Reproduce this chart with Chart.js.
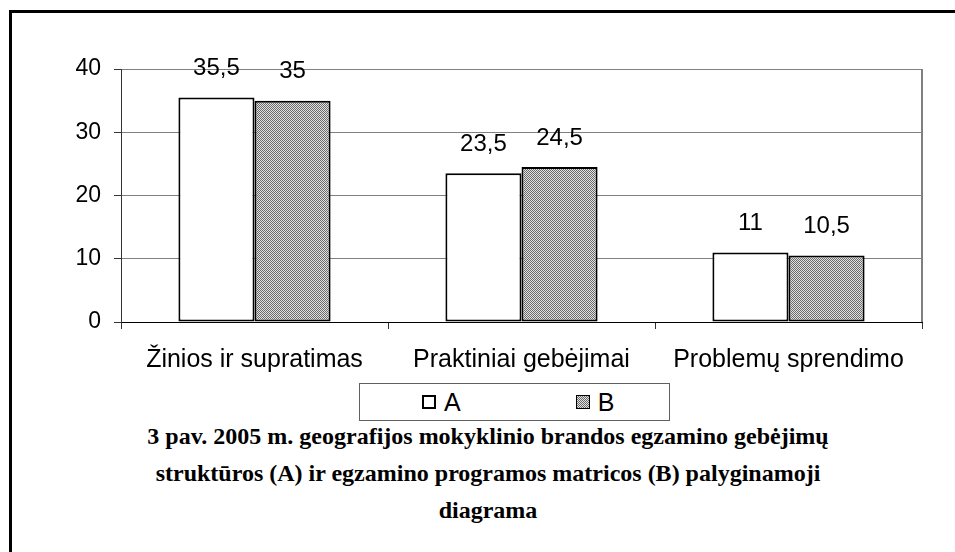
<!DOCTYPE html>
<html lang="lt">
<head>
<meta charset="UTF-8">
<title>3 pav.</title>
<script src="https://cdn.jsdelivr.net/npm/chart.js@4/dist/chart.umd.min.js"></script>
<style>
    body { margin: 0; background: #fff; width: 955px; height: 552px; overflow: hidden; position: relative; }
    #remas { position: absolute; left: 9px; top: 10px; width: 2000px; height: 2000px; border-left: 3px solid #000; border-top: 3px solid #000; }
    #grafikas { position: absolute; left: 0; top: 0; }
    #legenda { position: absolute; left: 359px; top: 383px; width: 311px; height: 38px; border: 1px solid #606060; box-sizing: border-box;
        font-family: "Liberation Sans", Arial, sans-serif; font-size: 25px; color: #000; display: flex; align-items: center; padding-left: 62px; }
    .elem { display: flex; align-items: center; }
    .kv { width: 14px; height: 14px; border: 2px solid #000; box-sizing: border-box; margin-right: 8px; }
    .kv.B { border-width: 1px; background: repeating-conic-gradient(#6a6a6a 0 25%, #e2e2e2 0 50%) 0 0/2px 2px; }
    #antraste { position: absolute; left: 0; width: 976px; top: 418px; text-align: center;
        font-family: "Liberation Serif", "Times New Roman", serif; font-weight: bold; font-size: 24px; line-height: 37px; color: #000; }
</style>
</head>
<body>
<div id="remas"></div>
<canvas id="grafikas" width="955" height="380"></canvas>
<div id="legenda"></div>
<div id="antraste">3 pav. 2005 m. geografijos mokyklinio brandos egzamino gebėjimų<br>struktūros (A) ir egzamino programos matricos (B) palyginamoji<br>diagrama</div>

<script>
    // duomenys
    const kategorijos = ['Žinios ir supratimas', 'Praktiniai gebėjimai', 'Problemų sprendimo'];
    const serijuPavadinimai = ['A', 'B'];
    const reiksmesA = [35.5, 23.5, 11];
    const reiksmesB = [35, 24.5, 10.5];
    const asiesZymos = [0, 10, 20, 30, 40];

    function rastas() {
        const c = document.createElement('canvas');
        c.width = 2; c.height = 2;
        const x = c.getContext('2d');
        x.fillStyle = '#e2e2e2';
        x.fillRect(0, 0, 2, 2);
        x.fillStyle = '#6a6a6a';
        x.fillRect(0, 0, 1, 1);
        x.fillRect(1, 1, 1, 1);
        return x.createPattern(c, 'repeat');
    }

    function skaicius(v) {
        return String(v).replace('.', ',');
    }

    // remelis aplink braizymo sriti ir reiksmiu uzrasai
    const priedai = {
        id: 'priedai',
        afterDatasetsDraw(chart) {
            const ctx = chart.ctx;
            const a = chart.chartArea;
            ctx.save();
            ctx.strokeStyle = '#808080';
            ctx.lineWidth = 2;
            ctx.beginPath();
            ctx.moveTo(a.right, a.top);
            ctx.lineTo(a.right, a.bottom);
            ctx.stroke();

            ctx.fillStyle = '#000';
            ctx.font = '24px "Liberation Sans", Arial, sans-serif';
            ctx.textAlign = 'center';
            ctx.textBaseline = 'middle';
            chart.data.datasets.forEach(function (ds, i) {
                chart.getDatasetMeta(i).data.forEach(function (bar, j) {
                    ctx.fillText(skaicius(ds.data[j]), bar.x, bar.y - 29);
                });
            });
            ctx.restore();
        }
    };

    const grafikas = new Chart(document.getElementById('grafikas'), {
        type: 'bar',
        data: {
            labels: kategorijos,
            datasets: [
                { label: serijuPavadinimai[0], data: reiksmesA, backgroundColor: '#fff', borderColor: '#000', borderWidth: 2, borderSkipped: false },
                { label: serijuPavadinimai[1], data: reiksmesB, backgroundColor: rastas(), borderColor: '#000', borderWidth: 2, borderSkipped: false }
            ]
        },
        options: {
            responsive: false,
            animation: false,
            layout: { padding: { left: 0, right: 33, top: 69, bottom: 0 } },
            datasets: { bar: { categoryPercentage: 0.57, barPercentage: 1 } },
            plugins: { legend: { display: false }, tooltip: { enabled: false } },
            scales: {
                x: {
                    grid: { drawOnChartArea: false, tickLength: 7, color: '#333' },
                    border: { color: '#000', width: 1 },
                    ticks: { color: '#000', padding: 16, maxRotation: 0, font: { family: '"Liberation Sans", Arial, sans-serif', size: 25 } },
                    afterFit: function (s) { s.height = 58; }
                },
                y: {
                    min: 0,
                    max: 40,
                    afterBuildTicks: function (s) { s.ticks = asiesZymos.map(function (v) { return { value: v }; }); },
                    grid: { color: '#808080', tickLength: 7, tickColor: '#333' },
                    border: { color: '#333', width: 1 },
                    ticks: { color: '#000', padding: 13, font: { family: '"Liberation Sans", Arial, sans-serif', size: 23 } },
                    afterFit: function (s) { s.width = 121; }
                }
            }
        },
        plugins: [priedai]
    });

    // legenda is duomenu rinkiniu
    const legenda = document.getElementById('legenda');
    grafikas.data.datasets.forEach(function (ds, i) {
        const el = document.createElement('div');
        el.className = 'elem';
        if (i > 0) el.style.marginLeft = '115px';
        el.innerHTML = '<span class="kv ' + ds.label + '"></span><span>' + ds.label + '</span>';
        legenda.appendChild(el);
    });
</script>
</body>
</html>
